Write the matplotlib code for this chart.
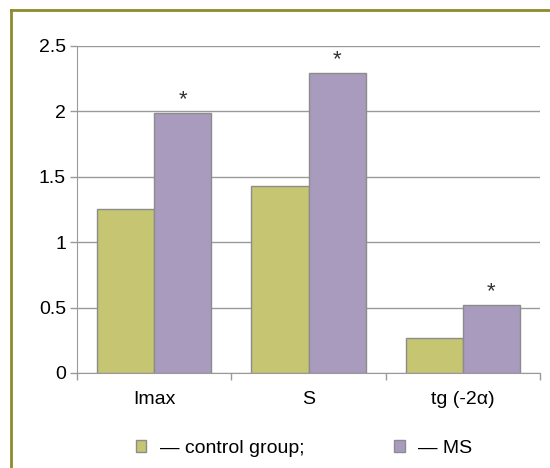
import matplotlib.pyplot as plt
from matplotlib.lines import Line2D
import numpy as np

plt.rcParams["font.family"] = ["Liberation Sans", "DejaVu Sans"]

categories = ["Imax", "S", "tg (-2α)"]
control = [1.25, 1.43, 0.27]
ms = [1.99, 2.29, 0.52]
significant = [True, True, True]

c_control = "#c5c572"
c_ms = "#a99bbe"
c_grid = "#9a9a9a"

fig = plt.figure(figsize=(5.5, 4.68), dpi=100)
ax = fig.add_axes([0.14, 0.203, 0.842, 0.699])

x = np.arange(len(categories))
w = 0.37
ax.bar(x - w / 2, control, w, color=c_control, edgecolor="#8c8c8c", linewidth=1, zorder=3,
       label="— control group;")
ax.bar(x + w / 2, ms, w, color=c_ms, edgecolor="#8c8c8c", linewidth=1, zorder=3,
       label="— MS")

for xi, v, s in zip(x, ms, significant):
    if s:
        ax.annotate("*", (xi + w / 2, v), xytext=(0, 2), textcoords="offset points",
                    ha="center", va="bottom", fontsize=16, color="#333333")

ax.set_xlim(-0.5, 2.5)
ax.set_ylim(0, 2.5)
ax.set_yticks([0, 0.5, 1, 1.5, 2, 2.5])
ax.set_yticklabels(["0", "0.5", "1", "1.5", "2", "2.5"])
ax.yaxis.grid(True, color=c_grid, linewidth=1)
ax.set_axisbelow(True)

ax.set_xticks([-0.5, 0.5, 1.5, 2.5])
ax.set_xticklabels([])
ax.set_xticks(x, minor=True)
ax.set_xticklabels(categories, minor=True)
ax.tick_params(axis="x", which="minor", length=0, pad=13, labelsize=14)
ax.tick_params(axis="x", which="major", length=5, color=c_grid, width=1)
ax.tick_params(axis="y", length=5, color=c_grid, width=1, labelsize=14, pad=3)

for sp in ["top", "right"]:
    ax.spines[sp].set_visible(False)
ax.spines["left"].set_color(c_grid)
ax.spines["bottom"].set_color(c_grid)

ax.legend(loc="upper center", bbox_to_anchor=(0.49, -0.15), ncol=2, frameon=False,
          fontsize=14, handlelength=0.55, handleheight=0.55, handletextpad=0.7,
          columnspacing=4.6)

# olive frame (top and left edges)
fig.add_artist(Line2D([0.02, 1.0], [0.978, 0.978], color="#8f8a2a", linewidth=2,
                      transform=fig.transFigure))
fig.add_artist(Line2D([0.02, 0.02], [0.0, 0.978], color="#8f8a2a", linewidth=2,
                      transform=fig.transFigure))

fig.savefig("out.png", dpi=100)
